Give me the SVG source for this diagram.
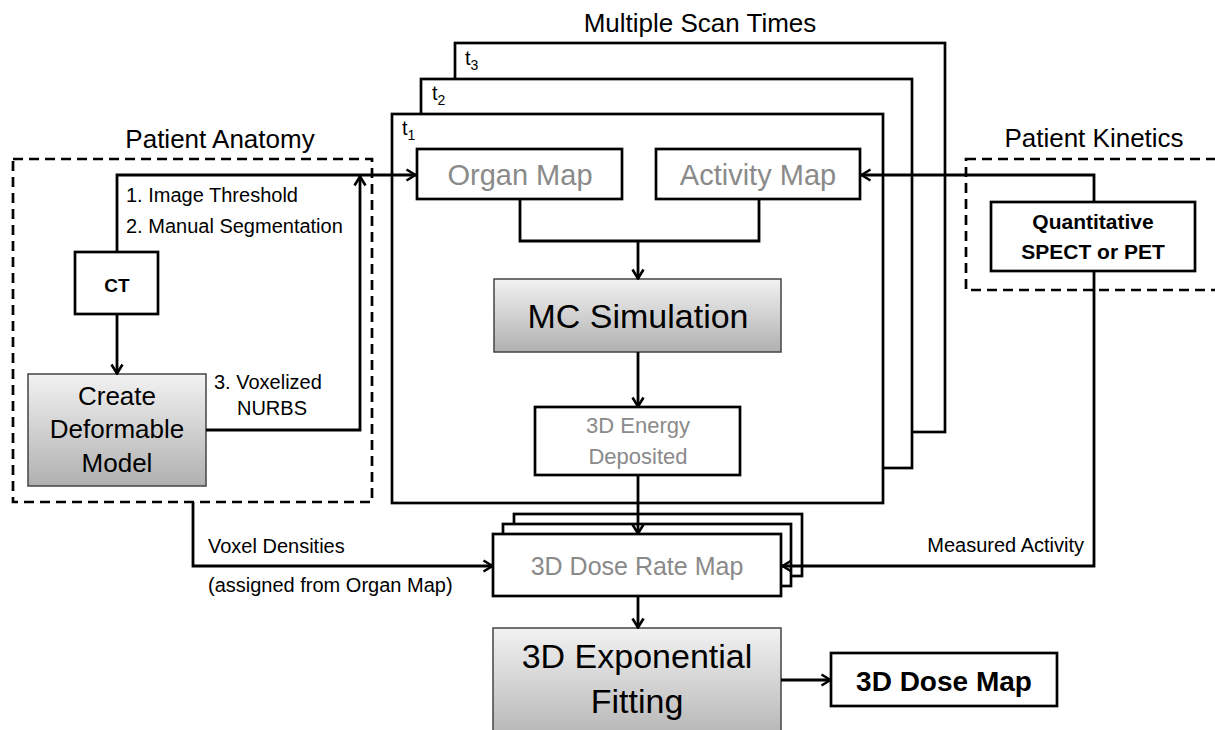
<svg xmlns="http://www.w3.org/2000/svg" width="1215" height="730" viewBox="0 0 1215 730">
<style>
text{font-family:"Liberation Sans",Arial,sans-serif;fill:#000}
.box{fill:#fff;stroke:#000;stroke-width:2.7}
.gbox{fill:url(#g);stroke:#444;stroke-width:1.5}
.frame{fill:#fff;stroke:#000;stroke-width:2.7}
.dash{fill:none;stroke:#000;stroke-width:2.7;stroke-dasharray:10 6}
.gray{fill:#8a8a8a}
.lbl{font-size:20px}
.ttl{font-size:26px}
.c{text-anchor:middle}
.cn{fill:none;stroke:#000;stroke-width:2.8}
</style>
<defs>
<linearGradient id="g" x1="0" y1="0" x2="0" y2="1">
<stop offset="0" stop-color="#f2f2f2"/>
<stop offset="1" stop-color="#b0b0b0"/>
</linearGradient>
<marker id="a" viewBox="0 0 12 14" refX="11" refY="7" markerWidth="12" markerHeight="14" markerUnits="userSpaceOnUse" orient="auto">
<path d="M1.5,1.5 L10.5,7 L1.5,12.5" fill="none" stroke="#000" stroke-width="2.6"/>
</marker>
</defs>

<g id="title">
<text class="ttl c" x="700" y="32">Multiple Scan Times</text>
</g>

<g id="frame-t3">
<rect class="frame" x="455" y="43" width="490" height="389"/>
<text x="465" y="65" font-size="20">t<tspan font-size="14" dy="5">3</tspan></text>
</g>
<g id="frame-t2">
<rect class="frame" x="421" y="79" width="491" height="389"/>
<text x="432" y="100" font-size="20">t<tspan font-size="14" dy="5">2</tspan></text>
</g>
<g id="frame-t1">
<rect class="frame" x="392" y="114" width="491" height="389"/>
<text x="402" y="135" font-size="20">t<tspan font-size="14" dy="5">1</tspan></text>
</g>

<g id="patient-anatomy">
<rect class="dash" x="13" y="159" width="359" height="343"/>
<text class="ttl c" x="220" y="148">Patient Anatomy</text>
</g>

<g id="patient-kinetics">
<rect class="dash" x="966" y="159" width="270" height="131"/>
<text class="ttl c" x="1094" y="147">Patient Kinetics</text>
</g>

<g id="ct">
<rect class="box" x="75" y="252" width="83" height="62"/>
<text class="c" x="117" y="292" font-size="19" font-weight="bold">CT</text>
</g>

<g id="create-model">
<rect class="gbox" x="28" y="374" width="178" height="112"/>
<text class="c" x="117" y="405" font-size="26">Create</text>
<text class="c" x="117" y="438" font-size="26">Deformable</text>
<text class="c" x="117" y="472" font-size="26">Model</text>
</g>

<g id="organ-map">
<rect class="box" x="417" y="149" width="205" height="50"/>
<text class="c gray" x="520" y="185" font-size="29">Organ Map</text>
</g>

<g id="activity-map">
<rect class="box" x="656" y="149" width="204" height="50"/>
<text class="c gray" x="758" y="185" font-size="29">Activity Map</text>
</g>

<g id="mc-simulation">
<rect class="gbox" x="494" y="279" width="287" height="73"/>
<text class="c" x="638" y="328" font-size="34">MC Simulation</text>
</g>

<g id="energy-deposited">
<rect class="box" x="535" y="407" width="205" height="68"/>
<text class="c gray" x="638" y="433" font-size="22">3D Energy</text>
<text class="c gray" x="638" y="464" font-size="22">Deposited</text>
</g>

<g id="dose-rate-map">
<rect class="box" x="514" y="514" width="288" height="62"/>
<rect class="box" x="503" y="524" width="288" height="62"/>
<rect class="box" x="493" y="534" width="288" height="62"/>
<text class="c gray" x="637" y="575" font-size="25">3D Dose Rate Map</text>
</g>

<g id="exponential-fitting">
<rect class="gbox" x="493" y="628" width="288" height="120"/>
<text class="c" x="637" y="668" font-size="34">3D Exponential</text>
<text class="c" x="637" y="713" font-size="34">Fitting</text>
</g>

<g id="dose-map">
<rect class="box" x="831" y="653" width="226" height="53"/>
<text class="c" x="944" y="691" font-size="28" font-weight="bold">3D Dose Map</text>
</g>

<g id="quant-spect">
<rect class="box" x="991" y="202" width="204" height="69"/>
<text class="c" x="1093" y="229" font-size="21" font-weight="bold">Quantitative</text>
<text class="c" x="1093" y="259" font-size="21" font-weight="bold">SPECT or PET</text>
</g>

<g id="connectors">
<polyline class="cn" points="117,252 117,175 416,175" marker-end="url(#a)"/>
<polyline class="cn" points="117,314 117,374" marker-end="url(#a)"/>
<polyline class="cn" points="206,430 360,430 360,176" marker-end="url(#a)"/>
<polyline class="cn" points="520,199 520,241 759,241 759,199"/>
<polyline class="cn" points="638,241 638,279" marker-end="url(#a)"/>
<polyline class="cn" points="638,352 638,407" marker-end="url(#a)"/>
<polyline class="cn" points="638,475 638,534" marker-end="url(#a)"/>
<polyline class="cn" points="638,596 638,628" marker-end="url(#a)"/>
<polyline class="cn" points="781,680 831,680" marker-end="url(#a)"/>
<polyline class="cn" points="1094,202 1094,175 861,175" marker-end="url(#a)"/>
<polyline class="cn" points="1094,271 1094,566 782,566" marker-end="url(#a)"/>
<polyline class="cn" points="193,502 193,566 493,566" marker-end="url(#a)"/>
</g>

<g id="connector-labels">
<text class="lbl" x="126" y="202">1. Image Threshold</text>
<text class="lbl" x="126" y="233">2. Manual Segmentation</text>
<text class="lbl" x="214" y="389">3. Voxelized</text>
<text class="lbl c" x="272" y="415">NURBS</text>
<text class="lbl" x="208" y="553">Voxel Densities</text>
<text class="lbl" x="208" y="592">(assigned from Organ Map)</text>
<text class="lbl" x="1084" y="552" text-anchor="end">Measured Activity</text>
</g>
</svg>
